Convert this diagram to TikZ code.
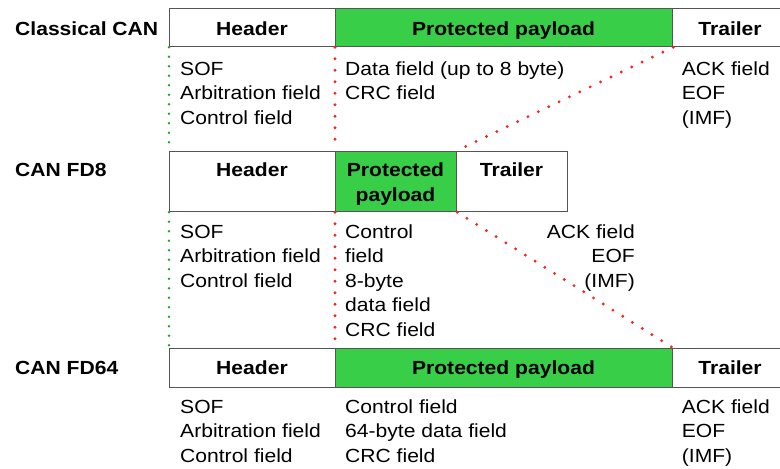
\documentclass[tikz,border=0pt]{standalone}
\usepackage{fontspec}
\setmainfont{Liberation Sans}[FakeStretch=1.11]
\definecolor{payg}{RGB}{56,206,72}
\definecolor{boxline}{RGB}{85,85,85}
\definecolor{dotred}{RGB}{240,40,30}
\definecolor{dotgreen}{RGB}{40,160,50}
\newcommand\colL[1]{\vtop{\baselineskip=24.5pt\halign{##\hfil\cr#1\crcr}}}
\newcommand\colR[1]{\vtop{\baselineskip=24.5pt\halign{\hfil##\cr#1\crcr}}}
\newcommand\colC[1]{\vtop{\baselineskip=24.5pt\halign{\hfil##\hfil\cr#1\crcr}}}
\tikzset{
  fbox/.style={draw=boxline, line width=1.2pt, inner sep=0pt, anchor=north west},
  pbox/.style={fbox, fill=payg},
  wbox/.style={fbox, fill=white},
  ttl/.style={font=\bfseries, inner sep=0pt, anchor=base west},
  btxt/.style={font=\bfseries, inner sep=0pt, anchor=base},
  ctxt/.style={inner sep=0pt, anchor=base west},
  rdots/.style={draw=dotred, line width=3.2pt, line cap=round, dash pattern=on 0pt off 11.5pt},
  gdots/.style={draw=dotgreen, line width=2.8pt, line cap=round, dash pattern=on 0pt off 9.5pt},
}
\begin{document}
\begin{tikzpicture}[x=1pt,y=-1pt]
\fontsize{19}{24.5}\selectfont
\useasboundingbox (0,0) rectangle (780,469);
\begin{scope}
\clip (0,0) rectangle (780,469);
% Classical CAN
\node[wbox, minimum width=166pt, minimum height=38pt] (h1) at (169,8) {};
\node[pbox, minimum width=337pt, minimum height=38pt] (p1) at (335,8) {};
\node[wbox, minimum width=130pt, minimum height=38pt] (t1) at (672,8) {};
% CAN FD8
\node[wbox, minimum width=166pt, minimum height=60.5pt] (h2) at (169,150.5) {};
\node[pbox, minimum width=121pt, minimum height=60.5pt] (p2) at (335,150.5) {};
\node[wbox, minimum width=111pt, minimum height=60.5pt] (t2) at (456,150.5) {};
% CAN FD64
\node[wbox, minimum width=166pt, minimum height=39pt] (h3) at (169,348) {};
\node[pbox, minimum width=337pt, minimum height=39pt] (p3) at (335,348) {};
\node[wbox, minimum width=130pt, minimum height=39pt] (t3) at (672,348) {};
\end{scope}
% dotted connectors
\draw[gdots] (h1.south west) -- (h2.north west);
\draw[gdots] (h2.south west) -- (h3.north west);
\draw[rdots] (p1.south west) -- (p2.north west);
\draw[rdots] (p2.south west) -- (p3.north west);
\draw[rdots] (p1.south east) -- (p2.north east);
\draw[rdots] (p2.south east) -- (p3.north east);
% row titles
\node[ttl] (l1) at (15,35) {Classical CAN};
\node[ttl] (l2) at (15,176.7) {CAN FD8};
\node[ttl] (l3) at (15,374.3) {CAN FD64};
% box texts
\node[btxt] (h1t) at (252,35) {Header};
\node[btxt] (p1t) at (503.5,35) {Protected payload};
\node[btxt] (t1t) at (730,35) {Trailer};
\node[btxt] (h2t) at (252,176.7) {Header};
\node[btxt] (p2t) at (395.5,176.7) {\colC{Protected\cr payload}};
\node[btxt] (t2t) at (511.5,176.7) {Trailer};
\node[btxt] (h3t) at (252,374.3) {Header};
\node[btxt] (p3t) at (503.5,374.3) {Protected payload};
\node[btxt] (t3t) at (730,374.3) {Trailer};
% field lists
\node[ctxt] (c1a) at (180,75) {\colL{SOF\cr Arbitration field\cr Control field}};
\node[ctxt] (c1b) at (345,75) {\colL{Data field (up to 8 byte)\cr CRC field}};
\node[ctxt] (c1c) at (681.7,75) {\colL{ACK field\cr EOF\cr (IMF)}};
\node[ctxt] (c2a) at (180,238.3) {\colL{SOF\cr Arbitration field\cr Control field}};
\node[ctxt] (c2b) at (345,238.3) {\colL{Control\cr field\cr 8-byte\cr data field\cr CRC field}};
\node[inner sep=0pt, anchor=base east] (c2c) at (635,238.3) {\colR{ACK field\cr EOF\cr (IMF)}};
\node[ctxt] (c3a) at (180,413.3) {\colL{SOF\cr Arbitration field\cr Control field}};
\node[ctxt] (c3b) at (345,413.3) {\colL{Control field\cr 64-byte data field\cr CRC field}};
\node[ctxt] (c3c) at (681.7,413.3) {\colL{ACK field\cr EOF\cr (IMF)}};
\end{tikzpicture}
\end{document}
